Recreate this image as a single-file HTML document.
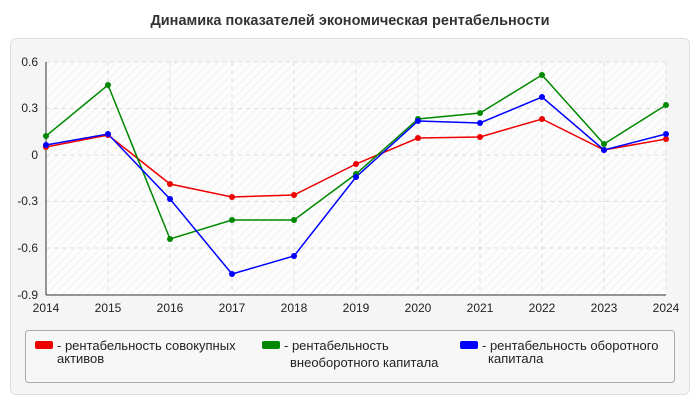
<!DOCTYPE html>
<html><head><meta charset="utf-8"><style>
body{margin:0;width:700px;height:400px;background:#fff;font-family:"Liberation Sans",sans-serif;overflow:hidden}
</style></head><body>
<svg width="700" height="400" xmlns="http://www.w3.org/2000/svg" font-family="Liberation Sans, sans-serif">
<defs><pattern id="h" width="6" height="6" patternUnits="userSpaceOnUse" patternTransform="rotate(45)"><rect width="6" height="6" fill="#fdfdfd"/><line x1="0" y1="0" x2="0" y2="6" stroke="#f1f1f1" stroke-width="2"/></pattern></defs>
<text x="350" y="25" text-anchor="middle" font-size="14.5" font-weight="bold" fill="#333">Динамика показателей экономическая рентабельности</text>
<rect x="10.5" y="38.5" width="679" height="356" rx="6" fill="#f5f5f5" stroke="#ddd"/>
<rect x="46" y="62" width="620" height="233" fill="url(#h)"/>
<g stroke="#ddd" stroke-dasharray="4,4">
<line x1="46" y1="62" x2="666" y2="62"/><line x1="46" y1="108.5" x2="666" y2="108.5"/><line x1="46" y1="155" x2="666" y2="155"/><line x1="46" y1="201.5" x2="666" y2="201.5"/><line x1="46" y1="248" x2="666" y2="248"/>
<line x1="108" y1="62" x2="108" y2="295"/><line x1="170" y1="62" x2="170" y2="295"/><line x1="232" y1="62" x2="232" y2="295"/><line x1="294" y1="62" x2="294" y2="295"/><line x1="356" y1="62" x2="356" y2="295"/><line x1="418" y1="62" x2="418" y2="295"/><line x1="480" y1="62" x2="480" y2="295"/><line x1="542" y1="62" x2="542" y2="295"/><line x1="604" y1="62" x2="604" y2="295"/><line x1="666" y1="62" x2="666" y2="295"/>
</g>
<line x1="46" y1="62" x2="46" y2="295" stroke="#333"/><line x1="46" y1="295" x2="666" y2="295" stroke="#333"/>
<g font-size="12" fill="#222" text-anchor="end">
<text x="38" y="66">0.6</text><text x="38" y="112">0.3</text><text x="38" y="159">0</text><text x="38" y="205">-0.3</text><text x="38" y="252">-0.6</text><text x="38" y="299">-0.9</text></g>
<g font-size="12" fill="#222" text-anchor="middle">
<text x="46" y="312">2014</text><text x="108" y="312">2015</text><text x="170" y="312">2016</text><text x="232" y="312">2017</text><text x="294" y="312">2018</text><text x="356" y="312">2019</text><text x="418" y="312">2020</text><text x="480" y="312">2021</text><text x="542" y="312">2022</text><text x="604" y="312">2023</text><text x="666" y="312">2024</text></g>
<g fill="none" stroke-width="1.5">
<polyline stroke="#e00" points="46,147 108,135 170,184 232,197 294,195 356,164 418,138 480,137 542,119 604,150 666,139"/>
<polyline stroke="#080" points="46,136 108,85 170,239 232,220 294,220 356,174 418,119 480,113 542,75 604,144 666,105"/>
<polyline stroke="#00f" points="46,145 108,134 170,199 232,274 294,256 356,177 418,121 480,123 542,97 604,150 666,134"/>
</g>
<g fill="#e00"><circle cx="46" cy="147" r="3"/><circle cx="108" cy="135" r="3"/><circle cx="170" cy="184" r="3"/><circle cx="232" cy="197" r="3"/><circle cx="294" cy="195" r="3"/><circle cx="356" cy="164" r="3"/><circle cx="418" cy="138" r="3"/><circle cx="480" cy="137" r="3"/><circle cx="542" cy="119" r="3"/><circle cx="604" cy="150" r="3"/><circle cx="666" cy="139" r="3"/></g>
<g fill="#080"><circle cx="46" cy="136" r="3"/><circle cx="108" cy="85" r="3"/><circle cx="170" cy="239" r="3"/><circle cx="232" cy="220" r="3"/><circle cx="294" cy="220" r="3"/><circle cx="356" cy="174" r="3"/><circle cx="418" cy="119" r="3"/><circle cx="480" cy="113" r="3"/><circle cx="542" cy="75" r="3"/><circle cx="604" cy="144" r="3"/><circle cx="666" cy="105" r="3"/></g>
<g fill="#00f"><circle cx="46" cy="145" r="3"/><circle cx="108" cy="134" r="3"/><circle cx="170" cy="199" r="3"/><circle cx="232" cy="274" r="3"/><circle cx="294" cy="256" r="3"/><circle cx="356" cy="177" r="3"/><circle cx="418" cy="121" r="3"/><circle cx="480" cy="123" r="3"/><circle cx="542" cy="97" r="3"/><circle cx="604" cy="150" r="3"/><circle cx="666" cy="134" r="3"/></g>
<rect x="25.5" y="330.5" width="649" height="52" rx="3" fill="#f7f7f7" stroke="#aaa"/>
<g font-size="13" fill="#222">
<rect x="35" y="341" width="18" height="8" rx="2" fill="#e00"/><text x="57" y="350">- рентабельность совокупных</text><text x="57" y="363">активов</text>
<rect x="262" y="341" width="18" height="8" rx="2" fill="#080"/><text x="284" y="350">- рентабельность</text><text x="290" y="367">внеоборотного капитала</text>
<rect x="460" y="341" width="18" height="8" rx="2" fill="#00f"/><text x="482" y="350">- рентабельность оборотного</text><text x="488" y="363">капитала</text>
</g>
</svg>
</body></html>
